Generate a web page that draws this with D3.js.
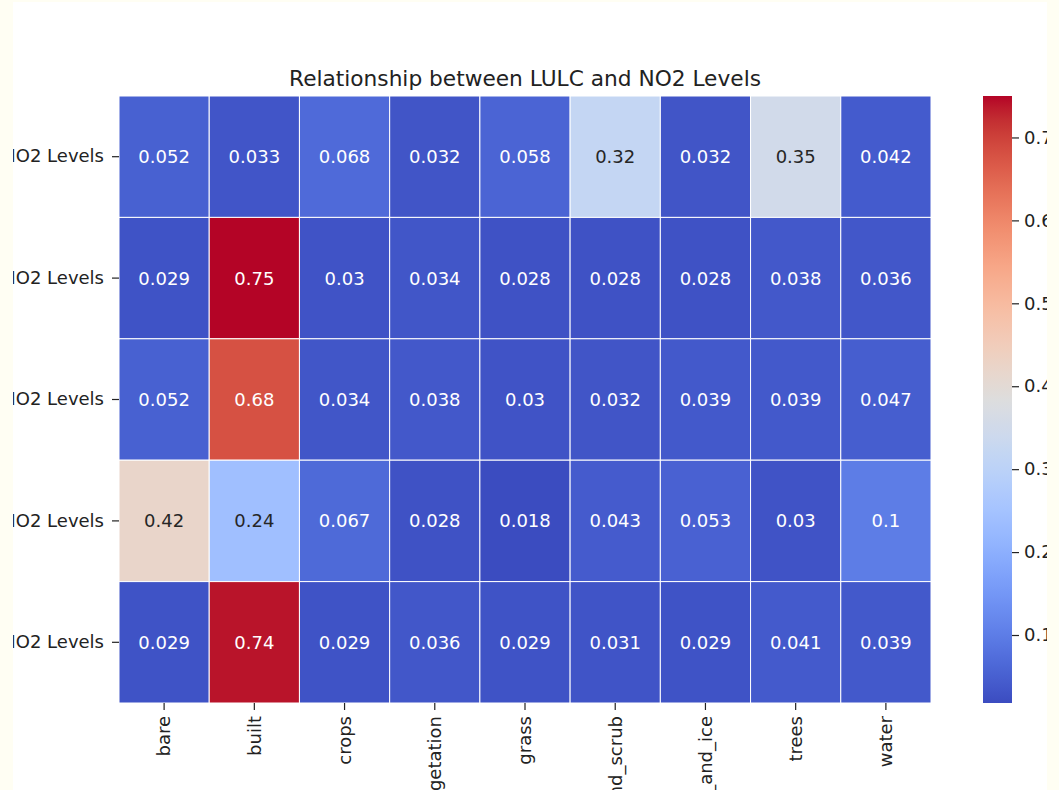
<!DOCTYPE html>
<html>
<head>
<meta charset="utf-8">
<script src="https://cdn.jsdelivr.net/npm/d3@7"></script>
<style>
  html, body { margin: 0; padding: 0; background: #fffef3; }
  svg { display: block; font-family: "DejaVu Sans", sans-serif; }
</style>
</head>
<body>
<svg id="chart" width="1059" height="790"></svg>
<script>
// Land-use / land-cover classes (columns) and row labels
const categories = ["bare", "built", "crops", "flooded_vegetation", "grass",
                    "shrub_and_scrub", "snow_and_ice", "trees", "water"];
const rowLabels = ["NO2 Levels", "NO2 Levels", "NO2 Levels", "NO2 Levels", "NO2 Levels"];

// One array of values per row
const row1 = [0.052, 0.033, 0.068, 0.032, 0.058, 0.32, 0.032, 0.35, 0.042];
const row2 = [0.029, 0.75, 0.03, 0.034, 0.028, 0.028, 0.028, 0.038, 0.036];
const row3 = [0.052, 0.68, 0.034, 0.038, 0.03, 0.032, 0.039, 0.039, 0.047];
const row4 = [0.42, 0.24, 0.067, 0.028, 0.018, 0.043, 0.053, 0.03, 0.1];
const row5 = [0.029, 0.74, 0.029, 0.036, 0.029, 0.031, 0.029, 0.041, 0.039];
const rows = [row1, row2, row3, row4, row5];

const colorbarTicks = [0.1, 0.2, 0.3, 0.4, 0.5, 0.6, 0.7];
const title = "Relationship between LULC and NO2 Levels";

// Coolwarm (diverging) colour stops
const coolwarm = [
  [59,76,192],[68,90,204],[77,104,215],[87,117,225],[98,130,234],[108,142,241],
  [119,154,247],[130,165,251],[141,176,254],[152,185,255],[163,194,255],[174,201,253],
  [184,208,249],[194,213,244],[204,217,238],[213,219,230],[221,221,221],[229,216,209],
  [236,211,197],[241,204,185],[245,196,173],[247,187,160],[247,177,148],[247,166,135],
  [244,154,123],[241,141,111],[236,127,99],[229,112,88],[222,96,77],[213,80,66],
  [203,62,56],[192,40,47],[180,4,38]
].map(c => d3.rgb(c[0], c[1], c[2]).toString());
const coolwarmInterp = d3.piecewise(d3.interpolateRgb, coolwarm);

const cells = [];
rows.forEach((vals, r) => vals.forEach((v, c) => cells.push({ r, c, v })));
const vmin = d3.min(cells, d => d.v);
const vmax = d3.max(cells, d => d.v);
const color = d3.scaleSequential(coolwarmInterp).domain([vmin, vmax]);

// Layout
const W = 1059, H = 790;
const plot = { left: 119, right: 931, top: 96, bottom: 703 };
const cbar = { x: 983, w: 29 };
const FS = 18;

const svg = d3.select("#chart");

// Figure canvas (white) on the cream page
svg.append("rect").attr("x", 0).attr("y", 0).attr("width", W).attr("height", H).attr("fill", "#fffef3");
svg.append("clipPath").attr("id", "fig").append("rect")
  .attr("x", 13).attr("y", 2).attr("width", 1034).attr("height", H - 2);
const fig = svg.append("g").attr("clip-path", "url(#fig)");
fig.append("rect").attr("x", 13).attr("y", 2).attr("width", 1034).attr("height", H - 2).attr("fill", "#ffffff");

const x = d3.scaleBand().domain(d3.range(categories.length)).range([plot.left, plot.right]);
const y = d3.scaleBand().domain(d3.range(rows.length)).range([plot.top, plot.bottom]);

// Cells
fig.append("g").selectAll("rect").data(cells).join("rect")
  .attr("x", d => x(d.c)).attr("y", d => y(d.r))
  .attr("width", x.bandwidth()).attr("height", y.bandwidth())
  .attr("fill", d => color(d.v))
  .attr("stroke", "#ffffff").attr("stroke-width", 1);

// Annotations, dark text on light cells
function textColor(v) {
  const c = d3.rgb(color(v));
  const lin = ch => { ch /= 255; return ch <= 0.03928 ? ch / 12.92 : Math.pow((ch + 0.055) / 1.055, 2.4); };
  const lum = 0.2126 * lin(c.r) + 0.7152 * lin(c.g) + 0.0722 * lin(c.b);
  return lum > 0.408 ? "#262626" : "#ffffff";
}
fig.append("g").selectAll("text").data(cells).join("text")
  .attr("x", d => x(d.c) + x.bandwidth() / 2)
  .attr("y", d => y(d.r) + y.bandwidth() / 2)
  .attr("text-anchor", "middle").attr("dominant-baseline", "central")
  .attr("font-size", FS).attr("fill", d => textColor(d.v))
  .text(d => d3.format("")(d.v));

// Axes
const xAxis = d3.axisBottom(x).tickSize(7).tickPadding(5).tickFormat(i => categories[i]);
const gx = fig.append("g").attr("transform", `translate(0,${plot.bottom})`).call(xAxis);
gx.select(".domain").remove();
gx.selectAll("line").attr("stroke", "#222").attr("stroke-width", 1.2);
gx.selectAll("text")
  .attr("font-size", FS).attr("fill", "#222").attr("font-family", "DejaVu Sans")
  .attr("transform", "rotate(-90)")
  .attr("x", -13).attr("y", 0).attr("dy", "0.35em")
  .attr("text-anchor", "end");

const yAxis = d3.axisLeft(y).tickSize(7).tickPadding(8).tickFormat(i => rowLabels[i]);
const gy = fig.append("g").attr("transform", `translate(${plot.left},0)`).call(yAxis);
gy.select(".domain").remove();
gy.selectAll("line").attr("stroke", "#222").attr("stroke-width", 1.2);
gy.selectAll("text").attr("font-size", FS).attr("fill", "#222").attr("font-family", "DejaVu Sans");

// Title
fig.append("text")
  .attr("x", (plot.left + plot.right) / 2).attr("y", 86)
  .attr("text-anchor", "middle").attr("font-size", 21.7).attr("fill", "#222")
  .text(title);

// Colour bar
const cScale = d3.scaleLinear().domain([vmin, vmax]).range([plot.bottom, plot.top]);
const grad = svg.append("defs").append("linearGradient").attr("id", "cbgrad")
  .attr("x1", 0).attr("y1", 1).attr("x2", 0).attr("y2", 0);
d3.range(0, 1.0001, 0.02).forEach(t => {
  grad.append("stop").attr("offset", t).attr("stop-color", coolwarmInterp(t));
});
fig.append("rect")
  .attr("x", cbar.x).attr("y", plot.top)
  .attr("width", cbar.w).attr("height", plot.bottom - plot.top)
  .attr("fill", "url(#cbgrad)");
const cAxis = d3.axisRight(cScale).tickValues(colorbarTicks).tickSize(7).tickPadding(5).tickFormat(d3.format(".1f"));
const gc = fig.append("g").attr("transform", `translate(${cbar.x + cbar.w},0)`).call(cAxis);
gc.select(".domain").remove();
gc.selectAll("line").attr("stroke", "#222").attr("stroke-width", 1.2);
gc.selectAll("text").attr("font-size", FS).attr("fill", "#222").attr("font-family", "DejaVu Sans");
</script>
</body>
</html>
